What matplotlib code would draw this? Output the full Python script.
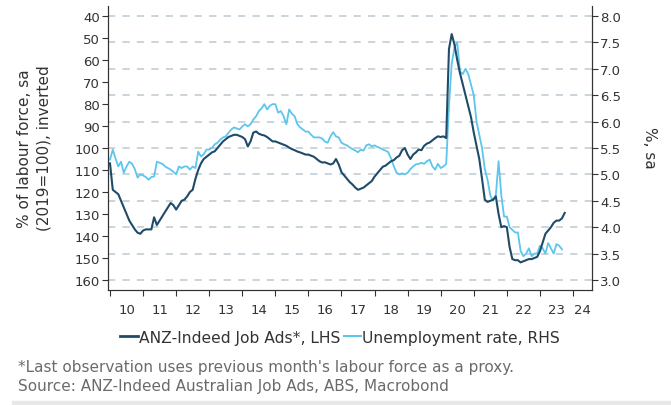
import numpy as np
import matplotlib
matplotlib.use("Agg")
import matplotlib.pyplot as plt
from matplotlib.lines import Line2D

# ANZ-Indeed job ads, % of labour force (2019=100), monthly from Jan 2010
job_ads = (
    [107, 119, 120, 121, 124, 127, 130, 133, 135, 137, 138.5, 139]          # 2010
    + [137.5, 137, 137, 137, 131.5, 135, 133, 131, 129, 127, 125, 126]      # 2011
    + [128, 126, 124, 123.5, 122, 120, 119, 114, 110, 107, 105, 104]        # 2012
    + [103, 102, 101.5, 100, 98.5, 97, 96, 95, 94.5, 94, 94, 94.5]          # 2013
    + [95, 96, 99.3, 97, 93, 92.5, 93.5, 94, 94.3, 95, 96, 97]              # 2014
    + [97, 97.5, 98, 98.5, 99, 99.8, 100.5, 101, 101.6, 102, 102.5, 103]    # 2015
    + [103, 103.5, 104, 105, 106, 106.6, 106.5, 107, 107.5, 107, 105, 107.5]  # 2016
    + [111, 112.5, 114, 115.5, 116.6, 118, 119, 118.5, 118, 117, 116, 115]  # 2017
    + [113, 111.5, 110, 108.5, 108, 107, 106, 105.5, 104.3, 103.5, 101, 100]  # 2018
    + [103, 105, 103, 102, 100.7, 101, 99, 98, 97.5, 96.5, 95.5, 94.7]      # 2019
    + [95, 94.7, 95.5, 55, 48.2, 53, 60, 66, 71, 76, 81, 86]                # 2020
    + [93, 99, 105, 114, 123.5, 124.5, 124, 123.5, 122, 130, 136, 135.5]    # 2021
    + [136, 145, 150.5, 151, 151, 152, 151.5, 151, 150.5, 150.5, 150, 149.5]  # 2022
    + [147, 143, 139, 137.5, 136, 134, 133, 133, 132, 129.5]                # 2023
)

# unemployment rate, %, sa, monthly from Jan 2010
unemp = (
    [5.28, 5.47, 5.3, 5.15, 5.24, 5.03, 5.15, 5.24, 5.2, 5.1, 4.94, 5.0]
    + [4.98, 4.95, 4.9, 4.95, 4.96, 5.24, 5.22, 5.2, 5.15, 5.12, 5.09, 5.05]
    + [5.0, 5.15, 5.12, 5.15, 5.15, 5.09, 5.15, 5.12, 5.43, 5.34, 5.38, 5.47]
    + [5.47, 5.5, 5.57, 5.6, 5.66, 5.7, 5.72, 5.79, 5.85, 5.89, 5.87, 5.85]
    + [5.91, 5.95, 5.91, 5.95, 6.04, 6.1, 6.2, 6.25, 6.33, 6.23, 6.3, 6.33]
    + [6.33, 6.17, 6.2, 6.1, 5.95, 6.23, 6.15, 6.1, 5.95, 5.89, 5.85, 5.81]
    + [5.81, 5.75, 5.7, 5.7, 5.7, 5.68, 5.62, 5.6, 5.72, 5.8, 5.72, 5.7]
    + [5.6, 5.57, 5.55, 5.51, 5.48, 5.45, 5.42, 5.47, 5.45, 5.55, 5.57, 5.53]
    + [5.55, 5.52, 5.5, 5.47, 5.45, 5.42, 5.3, 5.15, 5.03, 5.0, 5.02, 5.0]
    + [5.03, 5.1, 5.15, 5.19, 5.2, 5.22, 5.2, 5.25, 5.28, 5.15, 5.09, 5.2]
    + [5.12, 5.15, 5.2, 6.3, 7.1, 7.4, 7.5, 6.95, 6.9, 7.0, 6.9, 6.7]
    + [6.5, 6.0, 5.75, 5.5, 5.1, 4.9, 4.6, 4.5, 4.6, 5.25, 4.6, 4.2]
    + [4.2, 4.0, 3.95, 3.9, 3.9, 3.55, 3.45, 3.5, 3.6, 3.45, 3.5, 3.5]
    + [3.65, 3.6, 3.5, 3.7, 3.6, 3.5, 3.68, 3.65, 3.58]
)

start_year = 2010
years = list(range(2010, 2025))
year_labels = [str(y)[2:] for y in years]
lhs_ticks = list(range(40, 161, 10))
rhs_ticks = [3.0, 3.5, 4.0, 4.5, 5.0, 5.5, 6.0, 6.5, 7.0, 7.5, 8.0]

DARK = "#1f4b69"
LIGHT = "#5cc6ec"
TXT = "#333333"
GRID = "#c5d1d9"

plt.rcParams["font.family"] = "DejaVu Sans"

t_ads = start_year + np.arange(len(job_ads)) / 12
t_un = start_year + np.arange(len(unemp)) / 12

fig = plt.figure(figsize=(6.71, 4.06), dpi=100)
ax = fig.add_axes([0.161, 0.283, 0.721, 0.700])
ax2 = ax.twinx()
ax.set_zorder(ax2.get_zorder() + 1)
ax.patch.set_visible(False)

x0, x1 = 2009.94, 2024.57
y_top, y_bot = 35.4, 164.6
ax.set_xlim(x0, x1)
ax.set_ylim(y_bot, y_top)
# RHS mapped so that 8.0 sits on 40 and 3.0 on 160
to_rate = lambda v: 8 - (v - 40) / 24
ax2.set_ylim(to_rate(y_bot), to_rate(y_top))

ax2.plot(t_un, unemp, color=LIGHT, lw=1.3)
ax.plot(t_ads, job_ads, color=DARK, lw=1.5)

ax.set_yticks(lhs_ticks)
ax2.set_yticks(rhs_ticks)
ax2.set_yticklabels([f"{v:.1f}" for v in rhs_ticks])
for v in rhs_ticks:
    ax2.axhline(v, color=GRID, lw=1.3, dashes=(4, 4), zorder=0)

# year boundaries as ticks, labels centred in each year
ax.set_xticks(years)
ax.set_xticklabels([])
mids = [(y + min(y + 1, x1)) / 2 for y in years]
ax.set_xticks(mids, minor=True)
ax.set_xticklabels(year_labels, minor=True)
ax.tick_params(axis="x", which="minor", length=0, pad=9)
ax.tick_params(axis="x", which="major", length=4, direction="out", color=TXT)

ax.tick_params(axis="y", length=4, color=TXT, pad=2)
ax2.tick_params(axis="y", length=4, color=TXT, pad=2)
for a in (ax, ax2):
    a.tick_params(labelsize=9.5, labelcolor=TXT, which="both")
    a.spines["top"].set_visible(False)
    for s in ("left", "right", "bottom"):
        a.spines[s].set_color(TXT)

fig.text(0.051, 0.635, "% of labour force, sa\n(2019=100), inverted", rotation=90,
         ha="center", va="center", fontsize=11, color=TXT, linespacing=1.4)
fig.text(0.968, 0.635, "%, sa", rotation=270, ha="center", va="center",
         fontsize=11, color=TXT)

handles = [Line2D([], [], color=DARK, lw=2), Line2D([], [], color=LIGHT, lw=1.5)]
fig.legend(handles, ["ANZ-Indeed Job Ads*, LHS", "Unemployment rate, RHS"],
           loc="center", bbox_to_anchor=(0.507, 0.167), ncol=2, frameon=False,
           fontsize=11.2, handlelength=1.1, handletextpad=0.1, columnspacing=0.2,
           labelcolor=TXT)

fig.text(0.027, 0.0936, "*Last observation uses previous month's labour force as a proxy.",
         fontsize=11, color="#6b6b6b", va="center")
fig.text(0.027, 0.0468, "Source: ANZ-Indeed Australian Job Ads, ABS, Macrobond",
         fontsize=11, color="#6b6b6b", va="center")

fig.patches.append(plt.Rectangle((0.018, 0), 0.982, 0.01, transform=fig.transFigure,
                                 color="#e8e8e8", zorder=0))

fig.savefig("out.png", dpi=100)
